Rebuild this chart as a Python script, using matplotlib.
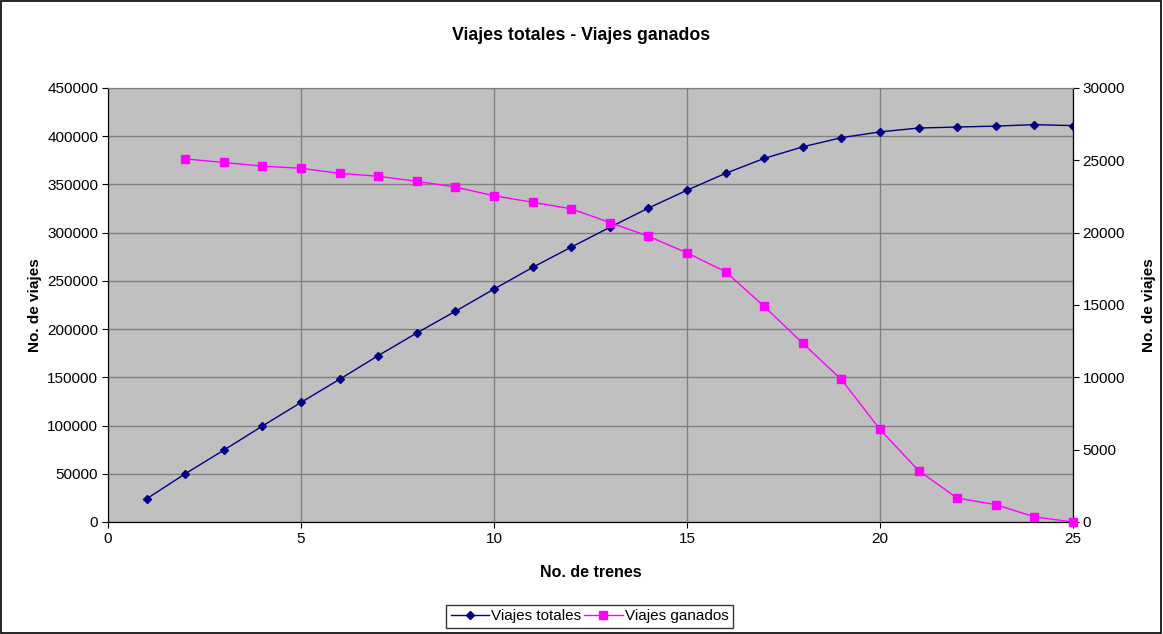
import numpy as np
import matplotlib
matplotlib.use('Agg')
import matplotlib.pyplot as plt
from matplotlib.patches import Rectangle

plt.rcParams['font.family'] = ['Liberation Sans', 'DejaVu Sans']

trenes_tot = list(range(1, 26))
viajes_totales = [24000, 50000, 74500, 99500, 124000, 148000, 172500, 196000, 218500,
                  241500, 264000, 285000, 305500, 325500, 344000, 361500, 377000,
                  389000, 398500, 404500, 408500, 409500, 410500, 412000, 411000]

trenes_gan = list(range(2, 26))
viajes_ganados = [25100, 24850, 24600, 24450, 24100, 23900, 23550, 23150, 22550,
                  22100, 21650, 20700, 19750, 18600, 17300, 14900, 12350, 9850,
                  6400, 3550, 1650, 1200, 350, 0]

fig = plt.figure(figsize=(11.63, 6.34), dpi=100)
fig.patches.append(Rectangle((0.001, 0.001), 0.997, 0.997, transform=fig.transFigure,
                             fill=False, edgecolor='black', linewidth=1.2))

ax = fig.add_axes([0.0929, 0.1767, 0.8297, 0.6845])
ax.set_facecolor('#C0C0C0')
ax.plot(trenes_tot, viajes_totales, color='#000080', marker='D', markersize=4.5,
        linewidth=1, label='Viajes totales', zorder=3)
ax.set_xlim(0, 25)
ax.set_ylim(0, 450000)
ax.set_xticks(np.arange(0, 26, 5))
ax.set_yticks(np.arange(0, 450001, 50000))
ax.grid(True, color='#808080', linewidth=1)
ax.set_axisbelow(True)
ax.tick_params(labelsize=11, direction='out', length=4, color='black', pad=3)
ax.spines['top'].set_color('#808080')
ax.spines['left'].set_color('black')
ax.spines['bottom'].set_color('black')
ax.set_xlabel('No. de trenes', fontsize=11.5, fontweight='bold', labelpad=14)
ax.set_ylabel('No. de viajes', fontsize=11, fontweight='bold', labelpad=4)

ax2 = ax.twinx()
ax2.plot(trenes_gan, viajes_ganados, color='#FF00FF', marker='s', markersize=6,
         linewidth=1, label='Viajes ganados', zorder=3, clip_on=False)
ax2.set_ylim(0, 30000)
ax2.set_yticks(np.arange(0, 30001, 5000))
ax2.tick_params(labelsize=11, direction='out', length=4, color='black', pad=3)
ax2.spines['right'].set_color('black')
ax2.spines['top'].set_color('#808080')
ax2.set_ylabel('No. de viajes', fontsize=11, fontweight='bold', labelpad=12)

fig.suptitle('Viajes totales - Viajes ganados', fontsize=12.8, fontweight='bold', y=0.957)

h1, l1 = ax.get_legend_handles_labels()
h2, l2 = ax2.get_legend_handles_labels()
leg = fig.legend(h1 + h2, l1 + l2, loc='center', bbox_to_anchor=(0.507, 0.028), ncol=2,
                 fontsize=11, frameon=True, fancybox=False, edgecolor='black',
                 handlelength=2.5, columnspacing=0.2, handletextpad=0.15, borderpad=0.3)
leg.get_frame().set_linewidth(1)

fig.savefig('out.png', dpi=100)
